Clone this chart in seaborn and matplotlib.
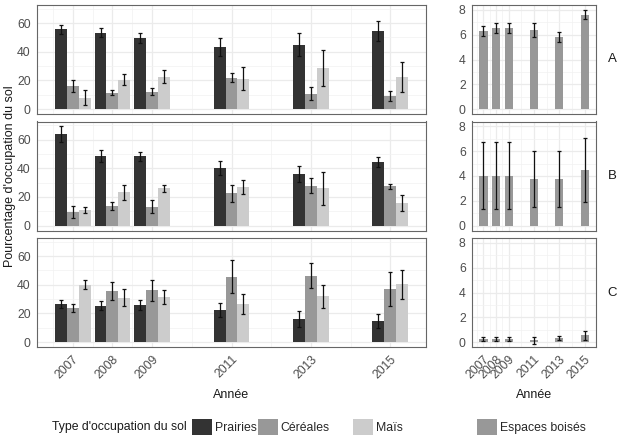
import numpy as np
import pandas as pd
import matplotlib
matplotlib.use("Agg")
import matplotlib.pyplot as plt
from matplotlib.patches import Patch
import seaborn as sns

# données (moyenne et erreur)
years = [2007, 2008, 2009, 2011, 2013, 2015]
types = ["Prairies", "Céréales", "Maïs"]
panels = ["A", "B", "C"]

prairies_A = [55.6, 53.3, 49.7, 43.5, 45.1, 54.7]
prairies_A_err = [3.2, 3.2, 3.4, 6.2, 8.1, 7.0]
cereales_A = [16.0, 11.4, 12.1, 22.0, 10.8, 8.9]
cereales_A_err = [4.1, 1.7, 2.3, 3.3, 4.3, 3.5]
mais_A = [8.0, 20.6, 22.7, 21.1, 28.8, 22.7]
mais_A_err = [5.2, 3.7, 4.8, 8.0, 12.4, 10.5]

prairies_B = [63.9, 48.5, 48.3, 40.3, 36.0, 44.4]
prairies_B_err = [5.5, 4.0, 2.9, 4.8, 5.5, 3.4]
cereales_B = [9.4, 13.7, 13.1, 22.4, 27.7, 27.3]
cereales_B_err = [4.1, 2.5, 4.6, 5.8, 5.3, 1.8]
mais_B = [10.8, 23.1, 25.9, 26.8, 25.9, 15.8]
mais_B_err = [2.0, 5.4, 2.3, 4.7, 11.7, 5.3]

prairies_C = [26.6, 25.4, 25.6, 22.2, 16.0, 14.4]
prairies_C_err = [2.7, 3.3, 3.5, 4.8, 5.4, 4.9]
cereales_C = [23.8, 35.7, 36.2, 45.6, 46.3, 36.9]
cereales_C_err = [2.9, 6.3, 7.4, 11.6, 8.7, 11.8]
mais_C = [40.0, 31.1, 31.6, 26.6, 32.1, 40.3]
mais_C_err = [3.2, 5.8, 4.7, 6.7, 8.0, 10.0]

bois_A = [6.33, 6.52, 6.52, 6.41, 5.80, 7.63]
bois_A_err = [0.40, 0.40, 0.40, 0.57, 0.40, 0.37]
bois_B = [4.04, 4.04, 4.04, 3.72, 3.72, 4.50]
bois_B_err = [2.74, 2.74, 2.74, 2.26, 2.26, 2.60]
bois_C = [0.27, 0.27, 0.25, 0.13, 0.32, 0.54]
bois_C_err = [0.17, 0.17, 0.17, 0.28, 0.17, 0.36]

crops = {
    "A": [(prairies_A, prairies_A_err), (cereales_A, cereales_A_err), (mais_A, mais_A_err)],
    "B": [(prairies_B, prairies_B_err), (cereales_B, cereales_B_err), (mais_B, mais_B_err)],
    "C": [(prairies_C, prairies_C_err), (cereales_C, cereales_C_err), (mais_C, mais_C_err)],
}
bois = {"A": (bois_A, bois_A_err), "B": (bois_B, bois_B_err), "C": (bois_C, bois_C_err)}

colors = {"Prairies": "#333333", "Céréales": "#989898", "Maïs": "#cccccc"}
bois_color = "#989898"

sns.set_style("white")
plt.rcParams["font.family"] = ["Liberation Sans", "DejaVu Sans"]

W, H = 620, 445
fig = plt.figure(figsize=(W / 100, H / 100), dpi=100)

def px_axes(x0, top, w, h):
    return fig.add_axes([x0 / W, (H - top - h) / H, w / W, h / H])

# grille mineure à la ggplot : milieux entre les graduations
xminor = [(a + b) / 2 for a, b in zip([years[0] - 1] + years[:-1], years)]
xlim = (2006.1, 2015.9)

def style_axes(ax, ylim, ymaj, ymin, show_x):
    ax.set_xlim(*xlim)
    ax.set_ylim(*ylim)
    ax.set_xticks(years)
    ax.set_xticks(xminor, minor=True)
    ax.set_yticks(ymaj)
    ax.set_yticks(ymin, minor=True)
    ax.grid(True, which="major", color="#ebebeb", lw=0.9)
    ax.grid(True, which="minor", color="#f2f2f2", lw=0.5)
    ax.set_axisbelow(True)
    for s in ax.spines.values():
        s.set_color("#666666")
        s.set_linewidth(0.8)
    ax.tick_params(which="major", length=3, width=0.6, color="#444444",
                   labelsize=8.8, labelcolor="#4d4d4d", pad=1.5)
    ax.tick_params(which="minor", length=0)
    ax.set_xlabel("")
    ax.set_ylabel("")
    if show_x:
        ax.set_xticklabels([str(y) for y in years], rotation=45, ha="right",
                           rotation_mode="anchor")
    else:
        ax.set_xticklabels([])

tops = [5, 121.5, 238]
ph = 109
offsets = (np.arange(len(types)) - 1) * 0.9 / len(types)

for i, p in enumerate(panels):
    # panneau gauche : cultures
    ax = px_axes(37, tops[i], 389, ph)
    rows = []
    for t, (vals, errs) in zip(types, crops[p]):
        for y, v in zip(years, vals):
            rows.append({"year": y, "val": v, "type": t})
    df = pd.DataFrame(rows)
    sns.barplot(data=df, x="year", y="val", hue="type", hue_order=types,
                palette=colors, native_scale=True, width=0.9, errorbar=None,
                linewidth=0, legend=False, ax=ax)
    for k, (vals, errs) in enumerate(crops[p]):
        ax.errorbar(np.array(years) + offsets[k], vals, yerr=errs, fmt="none",
                    ecolor="#111111", elinewidth=0.9, capsize=1.7, capthick=0.9)
    style_axes(ax, (-3.46, 72.7), [0, 20, 40, 60], [10, 30, 50, 70], i == 2)

    # panneau droit : espaces boisés
    ax2 = px_axes(472, tops[i], 124, ph)
    bv, be = bois[p]
    dfb = pd.DataFrame({"year": years, "val": bv})
    sns.barplot(data=dfb, x="year", y="val", color=bois_color, native_scale=True,
                width=0.65, errorbar=None, linewidth=0, ax=ax2)
    ax2.errorbar(years, bv, yerr=be, fmt="none", ecolor="#111111",
                 elinewidth=0.9, capsize=1.7, capthick=0.9)
    style_axes(ax2, (-0.4, 8.4), [0, 2, 4, 6, 8], [1, 3, 5, 7], i == 2)

    fig.text(612 / W, (H - tops[i] - ph / 2) / H, p, fontsize=9.5,
             ha="center", va="center", color="#1a1a1a")

fig.text(10 / W, (H - 176) / H, "Pourcentage d'occupation du sol", rotation=90,
         ha="center", va="center", fontsize=9, color="#1a1a1a")
fig.text(231 / W, (H - 395) / H, "Année", ha="center", va="center",
         fontsize=9, color="#1a1a1a")
fig.text(534 / W, (H - 395) / H, "Année", ha="center", va="center",
         fontsize=9, color="#1a1a1a")

# légendes en bas
ly = (H - 427) / H
fig.text(52 / W, ly, "Type d'occupation du sol", ha="left", va="center",
         fontsize=8.8, color="#1a1a1a")
legend_x = {"Prairies": 192, "Céréales": 258, "Maïs": 353}
for t in types:
    fig.legend(handles=[Patch(facecolor=colors[t], edgecolor="none", label=t)],
               loc="center left", bbox_to_anchor=(legend_x[t] / W, ly),
               frameon=False, fontsize=8.8, handlelength=1.6, handleheight=1.6,
               handletextpad=0.25, borderpad=0, borderaxespad=0)
fig.legend(handles=[Patch(facecolor=bois_color, edgecolor="none", label="Espaces boisés")],
           loc="center left", bbox_to_anchor=(477 / W, ly), frameon=False,
           fontsize=8.8, handlelength=1.6, handleheight=1.6, handletextpad=0.25,
           borderpad=0, borderaxespad=0)

fig.savefig("out.png", dpi=100)
plt.close(fig)
